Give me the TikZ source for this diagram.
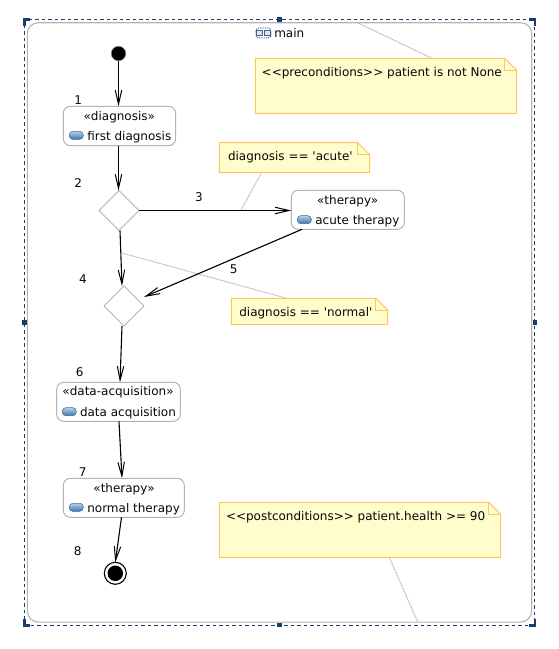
\documentclass[tikz,border=0pt]{standalone}
\usepackage{fontspec}
\setmainfont{DejaVu Sans}
\usetikzlibrary{arrows.meta,backgrounds,shapes.geometric}
\definecolor{navy}{HTML}{1B3D6D}
\definecolor{boxgray}{HTML}{B4B4B4}
\definecolor{notefill}{HTML}{FFFDCB}
\definecolor{noteline}{HTML}{FFC65E}
\definecolor{inktext}{HTML}{05070C}
\definecolor{pilltop}{HTML}{B5CFE6}
\definecolor{pillbot}{HTML}{3F74AC}
\definecolor{pillline}{HTML}{3A6A9C}
\tikzset{
  every node/.style={inner sep=0pt,outer sep=0pt},
  lbl/.style={font=\fontsize{12pt}{14pt}\selectfont,text=inktext},
  lblc/.style={lbl,anchor=base},
  lbll/.style={lbl,anchor=base west},
  actbox/.style={draw=boxgray,line width=1pt,rounded corners=7pt,fill=white,rectangle},
  decbox/.style={draw=boxgray,line width=1pt,diamond,aspect=1,fill=white,minimum width=40pt,minimum height=40pt},
  pill/.style={rectangle,rounded corners=3.5pt,draw=pillline,line width=.5pt,top color=pilltop,bottom color=pillbot,minimum width=14pt,minimum height=8pt},
  flow/.style={draw=black,line width=1.1pt,-{Straight Barb[length=14pt,width=6.5pt,line width=1pt]}},
  notelink/.style={draw=gray!60,line width=1pt,dash pattern=on .9pt off .7pt},
  notebox/.style={rectangle},
  noteshape/.style={draw=noteline,fill=notefill,line width=1pt,line join=miter},
  handle/.style={draw=navy,line width=2.5pt},
  hsq/.style={rectangle,fill=navy,minimum size=4.5pt},
}
\newcommand{\notebg}[1]{%
  \draw[noteshape] (#1.south west) -- (#1.north west) -- ([xshift=-12pt]#1.north east)
    -- ([yshift=-12pt]#1.north east) -- (#1.south east) -- cycle;
  \draw[noteline,line width=.8pt] ([xshift=-12pt]#1.north east) -- ([xshift=-12pt,yshift=-12pt]#1.north east) -- ([yshift=-12pt]#1.north east);
}
\begin{document}
\begin{tikzpicture}[x=1pt,y=-1pt]
\useasboundingbox (0,0) rectangle (559,649);

% activity frame
\node[rectangle,minimum width=510.3pt,minimum height=605.5pt,draw=navy,line width=1pt,dash pattern=on 3.5pt off 3pt] (sel) at (279.6,322.3) {};
\node[rectangle,minimum width=504.4pt,minimum height=599.3pt,draw=boxgray,line width=1.1pt,rounded corners=11pt] (frame) at (279.5,322.4) {};
\node[hsq] (hn) at (sel.north) {};
\node[hsq] (hs) at (sel.south) {};
\node[hsq] (hw) at (sel.west) {};
\node[hsq] (he) at (sel.east) {};
\draw[handle] ([xshift=6pt,yshift=.2pt]sel.north west) -- ([yshift=.2pt]sel.north west) -- ([yshift=-6pt]sel.north west);
\draw[handle] ([xshift=-6pt,yshift=.2pt]sel.north east) -- ([yshift=.2pt]sel.north east) -- ([yshift=-6pt]sel.north east);
\draw[handle] ([xshift=6pt,yshift=-.2pt]sel.south west) -- ([yshift=-.2pt]sel.south west) -- ([yshift=6pt]sel.south west);
\draw[handle] ([xshift=-6pt,yshift=-.2pt]sel.south east) -- ([yshift=-.2pt]sel.south east) -- ([yshift=6pt]sel.south east);

% frame title icon and text
\draw[navy,line width=.7pt,dash pattern=on 1.2pt off 1pt,rounded corners=3pt,fill=white] (256,28) rectangle (271,38);
\draw[navy!80!white,line width=.7pt,fill=navy!15!white] (256,30.5) rectangle (262,35.5);
\draw[navy!80!white,line width=.7pt,fill=navy!15!white] (264,30.5) rectangle (270,35.5);
\node[lbll] (title) at (274.3,37) {main};

% start / end
\node[circle,fill=black,draw=gray,line width=.6pt,minimum size=14.5pt] (start) at (118.5,53.5) {};
\node[circle,draw=black,line width=1.1pt,fill=white,minimum size=22pt] (stop) at (115.3,573.3) {};
\node[circle,fill=black,minimum size=15.5pt] (stopin) at (stop.center) {};

% actions
\node[actbox,minimum width=112.4pt,minimum height=39.4pt] (diag) at (119.5,126) {};
\node[lblc] (diagS) at (119.3,120) {«diagnosis»};
\node[pill] (diagI) at (76.3,135.3) {};
\node[lbll] (diagT) at (87.3,140) {first diagnosis};

\node[actbox,minimum width=113pt,minimum height=39pt] (acute) at (347.8,209.8) {};
\node[lblc] (acuteS) at (347.7,204) {«therapy»};
\node[pill] (acuteI) at (304.3,219.7) {};
\node[lbll] (acuteT) at (315.3,224) {acute therapy};

\node[actbox,minimum width=123.6pt,minimum height=39pt] (data) at (118.5,401.8) {};
\node[lblc] (dataS) at (118,395.7) {«data-acquisition»};
\node[pill] (dataI) at (69.3,411.7) {};
\node[lbll] (dataT) at (80,416) {data acquisition};

\node[actbox,minimum width=121pt,minimum height=39pt] (normal) at (123.8,497.8) {};
\node[lblc] (normalS) at (124,492) {«therapy»};
\node[pill] (normalI) at (76.3,507.3) {};
\node[lbll] (normalT) at (87.3,512) {normal therapy};

% decisions
\node[decbox] (dec1) at (119,210.5) {};
\node[decbox] (dec2) at (124,306) {};

% flows
\draw[flow] (start.south) -- ([xshift=-1pt]diag.north);
\draw[flow] ([xshift=-1pt]diag.south) -- ([xshift=-.5pt]dec1.north);
\draw[flow] (dec1.east) -- ([yshift=-.7pt]acute.west);
\draw[flow] ([xshift=1pt]dec1.south) -- ([xshift=-2pt]dec2.north);
\draw[flow] ([xshift=-45.8pt]acute.south) -- ([yshift=9pt]dec2.east);
\draw[flow] ([xshift=-2pt]dec2.south) -- ([xshift=1.5pt]data.north);
\draw[flow] ([xshift=.5pt]data.south) -- ([xshift=-1.8pt]normal.north);
\draw[flow] ([xshift=-2.3pt]normal.south) -- (stop.north);

% edge / order numbers
\node[lblc] (n1) at (78.3,104) {1};
\node[lblc] (n2) at (78.3,187.7) {2};
\node[lblc] (n3) at (199,201.7) {3};
\node[lblc] (n4) at (83,283.5) {4};
\node[lblc] (n5) at (233.7,273.7) {5};
\node[lblc] (n6) at (79.7,376.7) {6};
\node[lblc] (n7) at (82.7,476.7) {7};
\node[lblc] (n8) at (77.7,555.7) {8};

% notes
\node[notebox,minimum width=261.4pt,minimum height=55pt] (pre) at (386,85.8) {};
\node[lbll] (preT) at (261.7,76) {<{}<preconditions>{}> patient is not None};
\node[notebox,minimum width=150.4pt,minimum height=29.6pt] (nacute) at (294.5,157.5) {};
\node[lbll] (nacuteT) at (228,160) {diagnosis == \textquotesingle acute\textquotesingle};
\node[notebox,minimum width=156.4pt,minimum height=26pt] (nnormal) at (309.5,311.3) {};
\node[lbll] (nnormalT) at (239.3,316) {diagnosis == \textquotesingle normal\textquotesingle};
\node[notebox,minimum width=281.4pt,minimum height=55pt] (post) at (360,529.8) {};
\node[lbll] (postT) at (226,520) {<{}<postconditions>{}> patient.health >= 90};

\coordinate (preEnd) at (357.7,22.8);
\coordinate (acuteEnd) at (241,210);
\coordinate (normalEnd) at (122,253);
\coordinate (postEnd) at (417.5,621.5);

\begin{pgfonlayer}{background}
  \draw[notelink] ([xshift=46pt]pre.north) -- (preEnd);
  \draw[notelink] ([xshift=-32.8pt]nacute.south) -- (acuteEnd);
  \draw[notelink] ([xshift=-22.8pt]nnormal.north) -- (normalEnd);
  \draw[notelink] ([xshift=29.3pt]post.south) -- (postEnd);
\end{pgfonlayer}
\begin{pgfonlayer}{background}
  \notebg{pre}
  \notebg{nacute}
  \notebg{nnormal}
  \notebg{post}
\end{pgfonlayer}
\end{tikzpicture}
\end{document}
